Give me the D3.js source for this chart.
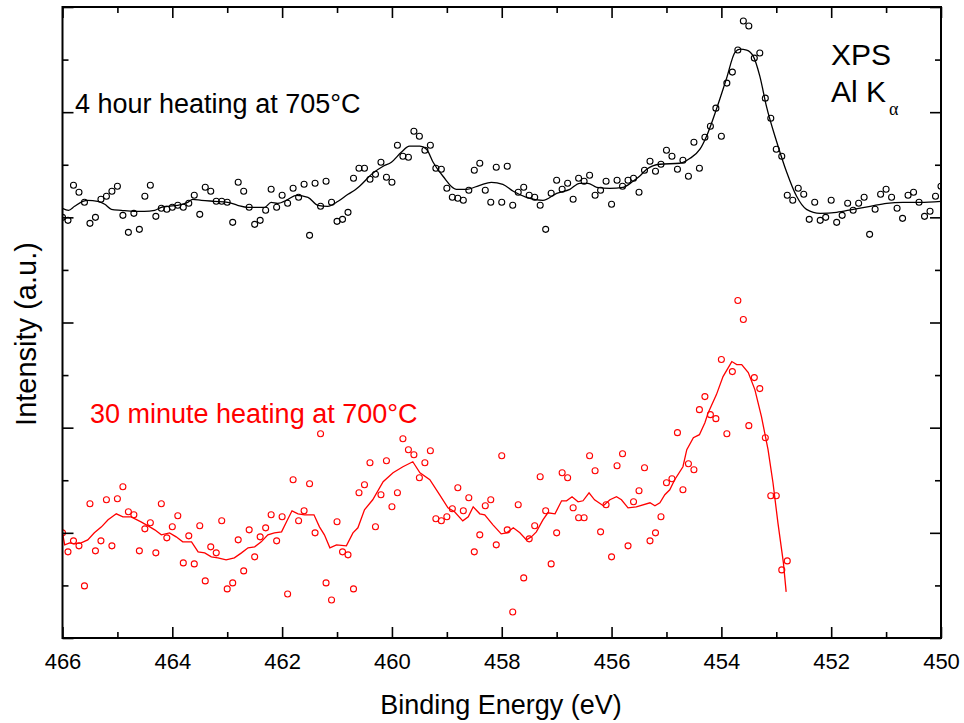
<!DOCTYPE html>
<html>
<head>
<meta charset="utf-8">
<script src="https://cdn.jsdelivr.net/npm/d3@7"></script>
<style>
  body { margin: 0; background: #fff; }
  text { font-family: 'Liberation Sans', Arial, sans-serif; }
</style>
</head>
<body>
<div id="chart"></div>
<script>
// energy grid of the measured points (eV), 0.1 eV step starting at 466
const energyStart = 466;
const energyStep = 0.1;

// 4 hour heating at 705 C (black), intensity a.u.
const points4h = [
  420,417,452,445,435,414,420,438,441,446,
  451,422,405,424,408,441,452,421,429,428,
  430,432,430,434,442,423,450,446,436,436,
  435,415,455,446,430,413,417,427,448,430,
  442,434,449,440,453,402,454,431,456,435,
  416,418,425,459,469,469,458,463,475,460,
  455,492,481,480,506,501,487,492,469,468,
  449,440,439,437,447,467,474,447,435,470,
  435,471,432,445,450,442,440,432,408,444,
  457,448,454,438,459,456,462,442,447,456,
  433,457,451,457,459,445,467,476,466,473,
  487,481,468,477,461,495,469,500,511,529,
  501,554,565,587,616,611,579,584,539,519,
  488,481,442,437,449,443,418,435,417,420,
  437,415,422,434,427,434,440,403,428,443,
  448,440,429,419,442,445,435,421,426,441,
  451
];

// smoothed curve of the 4 hour data
const fit4hE = [
  466.00,465.89,465.78,465.63,465.54,465.36,465.23,465.11,464.93,464.69,
  464.51,464.32,464.20,464.08,463.90,463.72,463.63,463.47,463.23,462.99,
  462.81,462.62,462.44,462.32,462.20,462.08,461.89,461.74,461.53,461.35,
  461.17,460.98,460.80,460.68,460.59,460.35,460.16,460.01,459.83,459.68,
  459.49,459.37,459.25,459.07,458.83,458.64,458.40,458.19,457.98,457.79,
  457.55,457.25,457.00,456.76,456.58,456.43,456.27,456.03,455.79,455.61,
  455.49,455.36,455.12,454.76,454.57,454.39,454.27,454.09,453.91,453.75,
  453.66,453.54,453.42,453.30,453.18,452.99,452.81,452.63,452.45,452.20,
  451.90,451.60,451.29,450.99,450.69,450.38,450.00
];
const fit4hI = [
  429,427,431,436,437,436,433,428,427,426,
  426,427,430,431,432,435,438,437,436,435,
  432,430,430,430,435,434,438,442,440,432,
  431,436,443,447,451,464,471,475,485,491,
  491,488,475,461,448,448,452,455,453,446,
  440,437,444,448,454,454,450,449,450,456,
  461,468,473,474,479,488,501,528,558,585,
  588,587,581,561,531,495,465,441,428,424,
  425,428,431,434,435,435,436
];

// 30 minute heating at 700 C (red), intensity a.u.
const points30m = [
  105,86,97,92,52,134,87,97,138,92,
  139,151,126,123,87,109,115,85,134,100,
  111,122,75,102,74,112,57,91,85,117,
  49,55,98,67,108,81,101,110,123,97,
  121,44,158,117,127,154,105,204,55,38,
  116,86,83,49,145,153,175,111,143,177,
  131,145,199,188,183,160,175,187,119,117,
  121,129,150,127,140,86,103,132,138,93,
  182,108,26,133,60,99,112,161,127,74,
  105,165,160,130,120,120,182,167,106,133,
  81,172,184,92,136,147,170,97,105,121,
  155,159,205,148,174,168,228,241,223,219,
  278,204,266,337,318,212,260,249,200,142,
  142,68,77
];

const fit30mE = [
  466.00,465.96,465.87,465.78,465.66,465.54,465.42,465.29,465.17,465.02,
  464.90,464.75,464.57,464.41,464.32,464.20,464.05,463.93,463.81,463.65,
  463.53,463.41,463.29,463.17,463.02,462.87,462.74,462.62,462.50,462.38,
  462.26,462.14,462.01,461.92,461.82,461.71,461.59,461.42,461.32,461.23,
  461.13,461.01,460.83,460.71,460.62,460.50,460.35,460.16,459.98,459.80,
  459.62,459.49,459.31,459.13,458.98,458.86,458.71,458.61,458.52,458.40,
  458.31,458.16,458.01,457.91,457.79,457.67,457.55,457.46,457.37,457.25,
  457.16,457.03,456.91,456.82,456.72,456.61,456.52,456.41,456.31,456.15,
  456.03,455.91,455.82,455.70,455.55,455.30,455.21,455.12,455.03,454.94,
  454.85,454.70,454.63,454.51,454.40,454.30,454.24,454.09,453.97,453.81,
  453.72,453.63,453.51,453.39,453.27,453.15,453.06,452.97,452.87,452.82
];
const fit30mI = [
  105,93,95,94,95,98,105,111,118,124,
  121,121,116,111,108,103,105,101,96,96,
  86,85,81,80,78,80,85,90,91,96,
  103,105,106,116,127,124,123,123,111,103,
  90,93,92,105,110,128,138,156,165,171,
  176,165,158,143,130,126,117,121,131,124,
  123,113,104,105,110,105,98,101,106,118,
  125,124,137,137,141,136,137,145,138,132,
  138,141,138,130,131,135,132,135,143,148,
  158,171,188,200,203,215,225,243,261,276,
  273,273,265,248,221,188,155,115,75,46
];

const xMajorTicks = [466, 464, 462, 460, 458, 456, 454, 452, 450];
const xMinorTicks = [465, 463, 461, 459, 457, 455, 453, 451];
const yMajorTicks = [0, 105, 210, 315, 420, 525, 630];
const yMinorTicks = [52.5, 157.5, 262.5, 367.5, 472.5, 577.5];

const width = 964, height = 723;
const plotLeft = 62.5, plotRight = 941, plotTop = 7, plotBottom = 638;

const svg = d3.select('#chart')
  .append('svg')
  .attr('width', width)
  .attr('height', height);

const x = d3.scaleLinear().domain([466, 450]).range([plotLeft, plotRight]);
const y = d3.scaleLinear().domain([0, 630]).range([plotBottom, plotTop]);

svg.append('defs').append('clipPath')
  .attr('id', 'plot-clip')
  .append('rect')
  .attr('x', plotLeft).attr('y', plotTop)
  .attr('width', plotRight - plotLeft).attr('height', plotBottom - plotTop);

const plot = svg.append('g').attr('clip-path', 'url(#plot-clip)');

const toPoints = vals => vals.map((v, i) => ({ e: energyStart - i * energyStep, v: v }));
const toCurve = (es, is) => es.map((e, i) => ({ e: e, v: is[i] }));

function drawSeries(points, curve, color, curveType) {
  const line = d3.line()
    .x(d => x(d.e))
    .y(d => y(d.v))
    .curve(curveType);

  plot.append('path')
    .datum(curve)
    .attr('d', line)
    .attr('fill', 'none')
    .attr('stroke', color)
    .attr('stroke-width', 1.3);

  plot.append('g')
    .selectAll('circle')
    .data(points)
    .join('circle')
    .attr('cx', d => x(d.e))
    .attr('cy', d => y(d.v))
    .attr('r', 3)
    .attr('fill', 'none')
    .attr('stroke', color)
    .attr('stroke-width', 1.1);
}

drawSeries(toPoints(points4h), toCurve(fit4hE, fit4hI), '#000', d3.curveMonotoneX);
drawSeries(toPoints(points30m), toCurve(fit30mE, fit30mI), '#ff0000', d3.curveLinear);

// axes, ticks pointing inward on all four sides
function addAxis(axis, transform) {
  const g = svg.append('g').attr('transform', transform).call(axis);
  g.select('.domain').remove();
  g.selectAll('.tick line').attr('stroke-width', 1.6);
  return g;
}

const bottomAxis = addAxis(
  d3.axisBottom(x).tickValues(xMajorTicks).tickSize(-11).tickPadding(15).tickFormat(d3.format('d')),
  `translate(0,${plotBottom})`);
bottomAxis.selectAll('text')
  .style('font-family', "'Liberation Sans', Arial, sans-serif")
  .style('font-size', '22px')
  .attr('fill', '#000');

addAxis(d3.axisBottom(x).tickValues(xMinorTicks).tickSize(-6).tickFormat(''), `translate(0,${plotBottom})`);
addAxis(d3.axisTop(x).tickValues(xMajorTicks).tickSize(-11).tickFormat(''), `translate(0,${plotTop})`);
addAxis(d3.axisTop(x).tickValues(xMinorTicks).tickSize(-6).tickFormat(''), `translate(0,${plotTop})`);
addAxis(d3.axisLeft(y).tickValues(yMajorTicks).tickSize(-11).tickFormat(''), `translate(${plotLeft},0)`);
addAxis(d3.axisLeft(y).tickValues(yMinorTicks).tickSize(-6).tickFormat(''), `translate(${plotLeft},0)`);
addAxis(d3.axisRight(y).tickValues(yMajorTicks).tickSize(-11).tickFormat(''), `translate(${plotRight},0)`);
addAxis(d3.axisRight(y).tickValues(yMinorTicks).tickSize(-6).tickFormat(''), `translate(${plotRight},0)`);

svg.append('rect')
  .attr('x', plotLeft).attr('y', plotTop)
  .attr('width', plotRight - plotLeft).attr('height', plotBottom - plotTop)
  .attr('fill', 'none')
  .attr('stroke', '#000')
  .attr('stroke-width', 2);

// axis titles
svg.append('text')
  .attr('x', 501).attr('y', 714)
  .attr('text-anchor', 'middle')
  .style('font-size', '27px')
  .text('Binding Energy (eV)');

svg.append('text')
  .attr('transform', 'translate(36,334) rotate(-90)')
  .attr('text-anchor', 'middle')
  .style('font-size', '29px')
  .text('Intensity (a.u.)');

// annotations
svg.append('text')
  .attr('x', 75).attr('y', 113)
  .style('font-size', '27px')
  .text('4 hour heating at 705°C');

svg.append('text')
  .attr('x', 90).attr('y', 423)
  .attr('fill', '#ff0000')
  .style('font-size', '27px')
  .text('30 minute heating at 700°C');

svg.append('text')
  .attr('x', 831).attr('y', 65)
  .style('font-size', '30px')
  .text('XPS');

const alk = svg.append('text')
  .attr('x', 831).attr('y', 102)
  .style('font-size', '30px');
alk.append('tspan').text('Al K');
alk.append('tspan')
  .attr('dx', 3).attr('dy', 13)
  .style('font-size', '18px')
  .style('font-family', "'Liberation Serif', 'Times New Roman', serif")
  .text('α');
</script>
</body>
</html>
